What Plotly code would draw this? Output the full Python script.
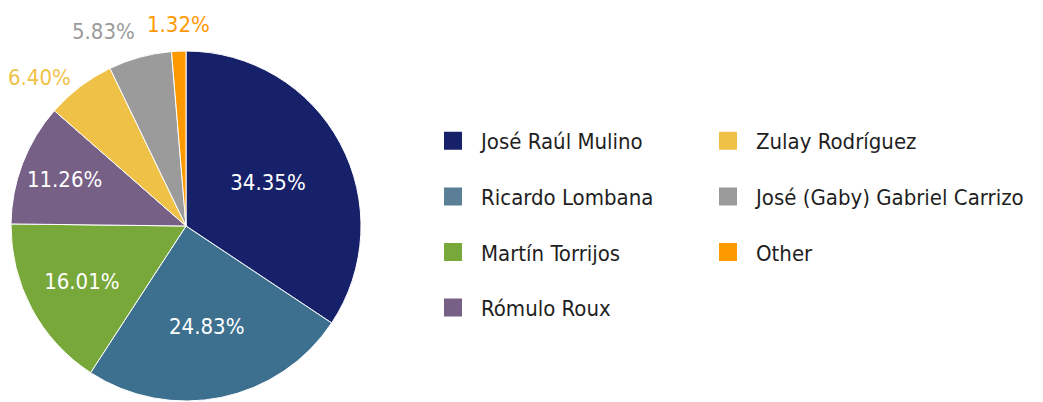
import math
import plotly.graph_objects as go

candidates = ["José Raúl Mulino", "Ricardo Lombana", "Martín Torrijos", "Rómulo Roux",
              "Zulay Rodríguez", "José (Gaby) Gabriel Carrizo", "Other"]
shares = [34.35, 24.83, 16.01, 11.26, 6.40, 5.83, 1.32]
colors = ["#16216a", "#3d6f8e", "#79a83a", "#776086", "#efc147", "#9b9b9b", "#ff9900"]
legend_colors = ["#16216a", "#5b7f96", "#79a83a", "#776086", "#efc147", "#9b9b9b", "#ff9900"]
outside = [False, False, False, False, True, True, True]

FONT = "DejaVu Sans Condensed, DejaVu Sans, sans-serif"

W, H = 1043, 402
cx, cy, r = 186, 226, 175

fig = go.Figure()
fig.add_trace(go.Pie(
    labels=candidates, values=shares, sort=False, direction="clockwise", rotation=0,
    marker=dict(colors=colors, line=dict(color="white", width=1)),
    texttemplate="%{value:.2f}%",
    textposition=["none" if o else "inside" for o in outside],
    insidetextorientation="horizontal",
    insidetextfont=dict(color="white", size=22, family=FONT),
    showlegend=False, hoverinfo="label+percent",
    domain=dict(x=[(cx - r) / W, (cx + r) / W], y=[(H - cy - r) / H, (H - cy + r) / H]),
))

# outside labels for the small slices, placed just beyond each slice's mid-angle
total = sum(shares)
cum = 0.0
for v, col, o in zip(shares, colors, outside):
    mid = (cum + v / 2) / total * 2 * math.pi
    cum += v
    if not o:
        continue
    s, c = math.sin(mid), math.cos(mid)
    R = r + 12
    px, py = cx + R * s, cy - R * c
    xa = "right" if s < -0.25 else ("left" if s > 0.25 else "center")
    ya = "bottom" if c > 0.85 else ("top" if c < -0.85 else "middle")
    fig.add_annotation(
        x=px / W, y=1 - py / H, xref="paper", yref="paper",
        text=f"{v:.2f}%", showarrow=False, xanchor=xa, yanchor=ya,
        font=dict(family=FONT, size=22, color=col),
    )

for i, (name, col) in enumerate(zip(candidates, legend_colors)):
    fig.add_trace(go.Scatter(
        x=[None], y=[None], mode="markers", name=name,
        marker=dict(symbol="square", size=16, color=col, line=dict(color=col, width=2)),
        legend="legend" if i < 4 else "legend2",
        legendgroup=name, showlegend=True,
    ))

leg_common = dict(font=dict(family=FONT, size=22, color="#1f1f1f"),
                  itemwidth=46, tracegroupgap=24, traceorder="grouped",
                  bgcolor="rgba(0,0,0,0)", yanchor="top", xanchor="left",
                  itemclick=False, itemdoubleclick=False)

fig.update_layout(
    width=W, height=H,
    margin=dict(l=0, r=0, t=0, b=0, autoexpand=False),
    paper_bgcolor="white", plot_bgcolor="white",
    xaxis=dict(visible=False), yaxis=dict(visible=False),
    legend=dict(x=425 / W, y=1 - 120 / H, **leg_common),
    legend2=dict(x=700 / W, y=1 - 120 / H, **leg_common),
)

fig.write_html(
    "out.html",
    config={"displayModeBar": False},
    post_script="document.body.style.margin='0';document.body.style.overflow='hidden';",
)
